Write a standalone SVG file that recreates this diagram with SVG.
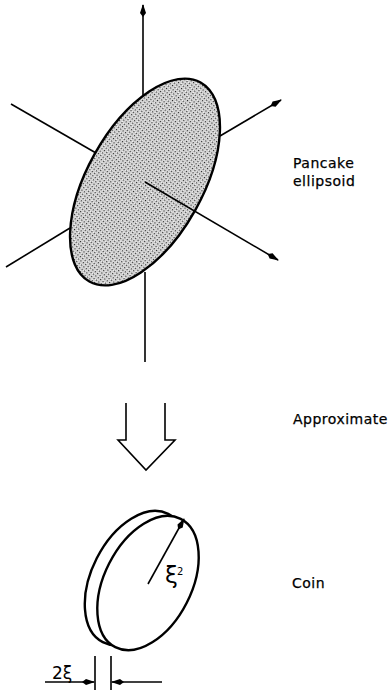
<svg xmlns="http://www.w3.org/2000/svg" width="390" height="691" viewBox="0 0 390 691">
<style>
.l{fill:none;stroke:#000;stroke-width:1.6}
.o{stroke:#000;stroke-width:2.4}
.t{font-family:"DejaVu Sans",sans-serif;font-size:14px;letter-spacing:.5px;fill:#000;stroke:#000;stroke-width:.25}
.g{font-family:"DejaVu Sans",sans-serif;fill:#000}
</style>
<defs>
<marker id="a" markerWidth="13" markerHeight="8" refX="12" refY="4" orient="auto" markerUnits="userSpaceOnUse"><path d="M0 4L4 1L13 4L4 7Z" fill="#000"/></marker>
<pattern id="d" width="3" height="3" patternUnits="userSpaceOnUse" patternTransform="rotate(8)"><rect width="3" height="3" fill="#f6f6f6"/><rect width="1.300" height="1.300" fill="#222"/><rect x="1.500" y="1.500" width="1.100" height="1.100" fill="#8a8a8a"/></pattern>
</defs>
<rect width="390" height="691" fill="#fff"/>
<g id="connectors">
<path class="l" d="M143 96V5" marker-end="url(#a)"/>
<path class="l" d="M145 272V362"/>
<path class="l" d="M11 104L96 153"/>
<path class="l" d="M70 228L6 267"/>
<path class="l" d="M220 136L281 100" marker-end="url(#a)"/>
</g>
<g id="pancake">
<ellipse class="o" cx="145" cy="182" rx="57.600" ry="114" transform="rotate(29.200 145 182)" fill="url(#d)"/>
<path class="l" d="M145 182L278 260" marker-end="url(#a)"/>
</g>
<g id="approx-arrow">
<path class="l" d="M126 403V440H118L146 470L175 440H165V403"/>
</g>
<g id="coin">
<ellipse class="o" cx="135.500" cy="578" rx="72" ry="43.500" transform="rotate(-63 135.500 578)" fill="#fff"/>
<ellipse class="o" cx="148" cy="583" rx="72" ry="43.500" transform="rotate(-63 148 583)" fill="#fff"/>
<path class="l" d="M148 584L184 519" marker-end="url(#a)"/>
<text class="g" x="165" y="583" style="font-size:23px">ξ</text>
<text class="g" x="177" y="575" style="font-size:10px">2</text>
</g>
<g id="thickness">
<path class="l" d="M95 656V690M111 656V690"/>
<path class="l" d="M45 682H94" marker-end="url(#a)"/>
<path class="l" d="M162 682H112" marker-end="url(#a)"/>
<text class="g" x="52" y="679" style="font-size:17px">2ξ</text>
</g>
<g id="labels">
<text class="t" x="293" y="168">Pancake</text>
<text class="t" x="293" y="186">ellipsoid</text>
<text class="t" x="293" y="424">Approximate</text>
<text class="t" x="292" y="588">Coin</text>
</g>
</svg>
